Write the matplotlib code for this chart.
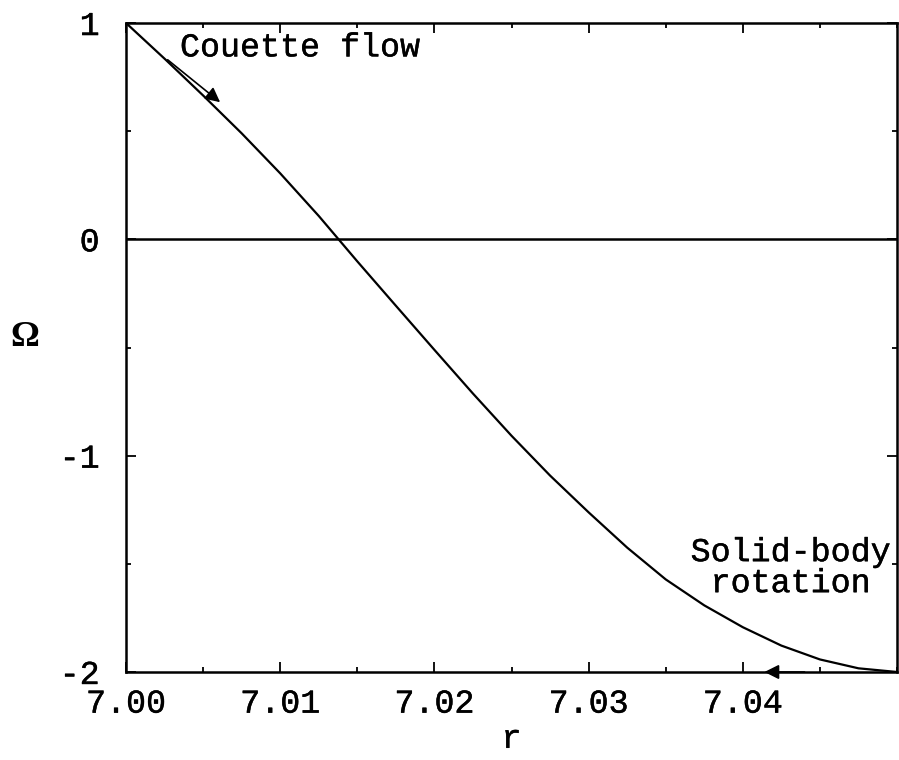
import numpy as np
import matplotlib
matplotlib.use("Agg")
import matplotlib.pyplot as plt
import matplotlib.patheffects as pe
from matplotlib.ticker import MultipleLocator, FixedLocator

plt.rcParams['font.family'] = ['Liberation Mono', 'DejaVu Sans Mono']
plt.rcParams['axes.unicode_minus'] = False

# angular velocity profile
r = [7.0000, 7.0025, 7.0050, 7.0075, 7.0100, 7.0125, 7.0150, 7.0175,
     7.0200, 7.0225, 7.0250, 7.0275, 7.0300, 7.0325, 7.0350, 7.0375,
     7.0400, 7.0425, 7.0450, 7.0475, 7.0500]
omega = [1.000, 0.835, 0.665, 0.490, 0.305, 0.108, -0.102, -0.307,
         -0.511, -0.713, -0.908, -1.092, -1.262, -1.425, -1.572, -1.692,
         -1.793, -1.878, -1.942, -1.983, -2.000]

x_ticks = [7.00, 7.01, 7.02, 7.03, 7.04]
x_labels = ['7.00', '7.01', '7.02', '7.03', '7.04']
y_ticks = [-2, -1, 0, 1]

# a touch heavier than the plain font, like the scanned original
heavy = [pe.withStroke(linewidth=0.3, foreground='black')]

fig = plt.figure(figsize=(8.99, 7.60), dpi=100)
ax = fig.add_axes([0.1402, 0.1158, 0.8576, 0.8539])

ax.plot(r, omega, color='black', lw=1.6, solid_joinstyle='round')
ax.axhline(0, color='black', lw=1.8)

ax.set_xlim(7.00, 7.05)
ax.set_ylim(-2, 1)
ax.xaxis.set_major_locator(FixedLocator(x_ticks))
ax.set_xticklabels(x_labels)
ax.xaxis.set_minor_locator(MultipleLocator(0.005))
ax.yaxis.set_major_locator(FixedLocator(y_ticks))
ax.yaxis.set_minor_locator(MultipleLocator(0.5))

ax.tick_params(which='both', direction='in', top=True, right=True,
               labelsize=24, width=1.3, colors='black')
ax.tick_params(which='major', length=7)
ax.tick_params(which='minor', length=3.5)
ax.tick_params(axis='y', pad=19)
ax.tick_params(axis='x', pad=12)
for s in ax.spines.values():
    s.set_linewidth(1.8)
for lab in ax.get_xticklabels() + ax.get_yticklabels():
    lab.set_path_effects(heavy)

ax.set_xlabel('r', fontsize=24, labelpad=3, path_effects=heavy)
ax.set_ylabel('Ω', fontsize=26, rotation=0, family=['Liberation Serif', 'DejaVu Serif'],
              fontweight='bold', va='center', ha='center')
ax.yaxis.set_label_coords(-0.131, 0.515)

# arrows
ax.annotate('', xy=(7.0061, 0.634), xytext=(7.0027, 0.830),
            arrowprops=dict(arrowstyle='-|>', color='black', lw=1.2,
                            mutation_scale=22, shrinkA=0, shrinkB=0))
ax.annotate('', xy=(7.0414, -2.0), xytext=(7.0440, -2.0),
            arrowprops=dict(arrowstyle='-|>', color='black', lw=1.2,
                            mutation_scale=22, shrinkA=0, shrinkB=0))

ax.text(7.0035, 0.885, 'Couette flow', fontsize=24, ha='left', va='center',
        path_effects=heavy)
ax.text(7.0431, -1.52, 'Solid-body\nrotation', fontsize=24, ha='center',
        va='center', linespacing=1.0, path_effects=heavy)

fig.savefig('out.png', dpi=100)
